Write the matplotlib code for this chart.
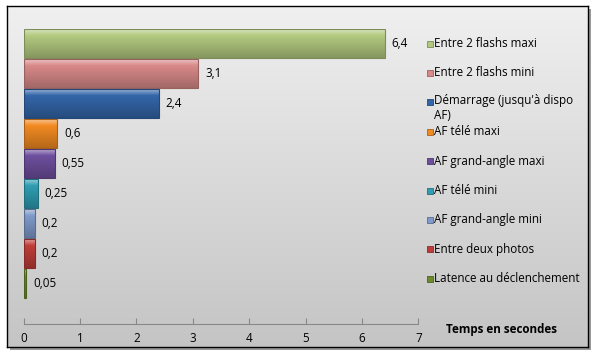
import numpy as np
import matplotlib
matplotlib.use("Agg")
import matplotlib.pyplot as plt
from matplotlib.colors import to_rgb
from matplotlib.patches import Rectangle


# categories, top to bottom
labels = [
    "Entre 2 flashs maxi",
    "Entre 2 flashs mini",
    "Démarrage (jusqu'à dispo\nAF)",
    "AF télé maxi",
    "AF grand-angle maxi",
    "AF télé mini",
    "AF grand-angle mini",
    "Entre deux photos",
    "Latence au déclenchement",
]
values = [6.4, 3.1, 2.4, 0.6, 0.55, 0.25, 0.2, 0.2, 0.05]
value_text = ["6,4", "3,1", "2,4", "0,6", "0,55", "0,25", "0,2", "0,2", "0,05"]
colors = ["#b2ca80", "#d88a89", "#3366a8", "#f28a22", "#6e4f9e",
          "#2f9db3", "#7f9acb", "#bf3d39", "#6e8b2c"]
xticks = [0, 1, 2, 3, 4, 5, 6, 7]

plt.rcParams["font.family"] = ["Open Sans", "DejaVu Sans"]
FS = 8.4

W, H = 598, 356
fig = plt.figure(figsize=(W / 100, H / 100), dpi=100)


def px(x0, y0, x1, y1):
    # pixel box (top-left origin) -> figure fraction rect
    return [x0 / W, 1 - y1 / H, (x1 - x0) / W, (y1 - y0) / H]


# shadow + gradient background box
shadow = fig.add_axes(px(10, 9, 591, 350))
shadow.set_axis_off()
shadow.add_patch(Rectangle((0, 0), 1, 1, transform=shadow.transAxes, color="#9a9a9a"))
bg = fig.add_axes(px(7, 6, 588, 347))
grad = np.linspace(0.94, 0.77, 256)[:, None]
bg.imshow(np.dstack([grad, grad, grad]), aspect="auto", extent=[0, 1, 0, 1])
bg.set_xlim(0, 1)
bg.set_ylim(0, 1)
bg.set_xticks([])
bg.set_yticks([])
for s in bg.spines.values():
    s.set_color("black")
    s.set_linewidth(1.0)

ax = fig.add_axes(px(23.5, 28.5, 418.5, 324))
ax.set_facecolor("none")
n = len(values)
pos = np.arange(n)
bars = ax.barh(pos, values, height=0.95, color=colors, zorder=2)

# bevel shading: gradient clipped to each bar
for b, c in zip(bars, colors):
    base = np.array(to_rgb(c))
    light = base + (1 - base) * 0.5
    dark = base * 0.75
    t = np.linspace(0, 1, 64)[:, None]
    top = np.where(t < 0.22, light + (base - light) * (t / 0.22), base + (dark - base) * ((t - 0.22) / 0.78))
    img = top[:, None, :]
    x0, y0 = b.get_x(), b.get_y()
    w, h = b.get_width(), b.get_height()
    im = ax.imshow(img, aspect="auto", extent=[x0, x0 + w, y0 + h, y0], zorder=2.5)
    im.set_clip_path(b)
    b.set_edgecolor(tuple(base * 0.7))
    b.set_linewidth(0.8)
    b.set_zorder(3)
    b.set_facecolor("none")

for i, (v, t) in enumerate(zip(values, value_text)):
    ax.annotate(t, (v, i), xytext=(5, 0), textcoords="offset points",
                va="center", ha="left", fontsize=FS, color="black")

ax.set_xlim(0, 7)
ax.set_ylim(9.35, -0.5)
ax.set_xticks(xticks)
ax.set_xticklabels([str(x) for x in xticks], fontsize=FS)
ax.set_yticks([])
for s in ["top", "right", "left"]:
    ax.spines[s].set_visible(False)
ax.spines["bottom"].set_color("#888888")
ax.tick_params(axis="x", direction="in", length=4, color="#888888", pad=6)

# legend, drawn by hand to match the wrapped entry
for i, (lab, c) in enumerate(zip(labels, colors)):
    y = i * 0.98
    ax.plot([7.2], [y], marker="s", ms=5, color=c, mec=tuple(np.array(to_rgb(c)) * 0.7),
            mew=0.6, clip_on=False)
    if "\n" in lab:
        ax.text(7.28, y - 0.27, lab, va="top", ha="left", fontsize=FS, clip_on=False,
                linespacing=1.2)
    else:
        ax.text(7.28, y, lab, va="center", ha="left", fontsize=FS, clip_on=False)

fig.text(502 / W, 1 - 330 / H, "Temps en secondes", ha="center", va="center",
         fontsize=FS, fontweight="bold")

fig.savefig("out.png", dpi=100)
